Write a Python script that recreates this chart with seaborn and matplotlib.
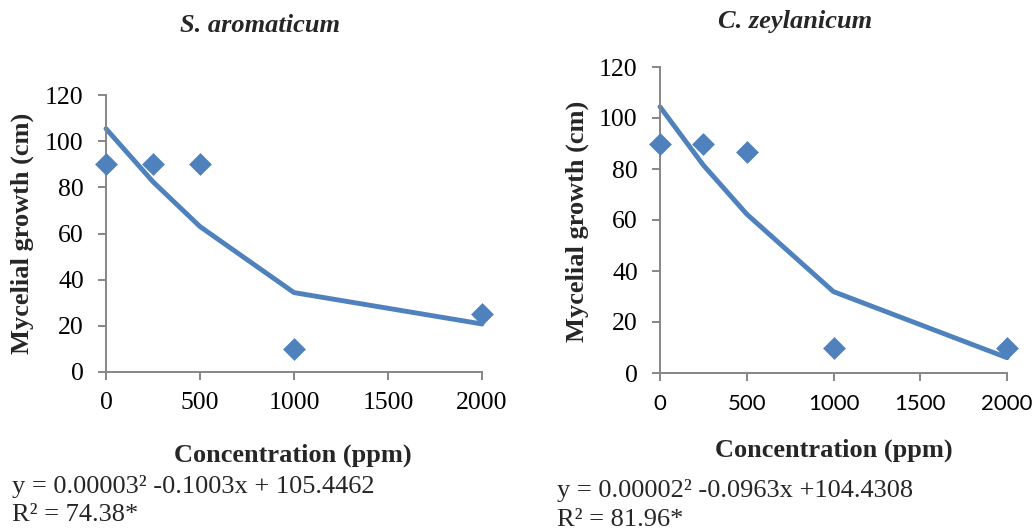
import matplotlib
matplotlib.use("Agg")
import matplotlib.pyplot as plt
import seaborn as sns
import pandas as pd

sns.set_theme(style="white")
plt.rcParams['font.family'] = ['Liberation Serif', 'DejaVu Serif']

# Data
conc = [0, 250, 500, 1000, 2000]
s_arom_obs = [90, 90, 90, 10, 25]
s_arom_fit = [105.4, 82.4, 63.0, 34.4, 20.8]
c_zeyl_obs = [90, 90, 86.5, 10, 10]
c_zeyl_fit = [104.4, 81.5, 62.3, 31.9, 6.0]
titles = ["S. aromaticum", "C. zeylanicum"]
eq_line1 = ["y = 0.00003\u00b2 -0.1003x + 105.4462",
            "y = 0.00002\u00b2 -0.0963x +104.4308"]
eq_line2 = ["R\u00b2 = 74.38*", "R\u00b2 = 81.96*"]
xticks = [0, 500, 1000, 1500, 2000]
yticks = [0, 20, 40, 60, 80, 100, 120]

blue = "#4F81BD"
spine_col = "#868686"

W, H = 1035, 531
fig = plt.figure(figsize=(W / 100, H / 100), dpi=100)

def px_axes(x0, y0, x1, y1):
    return fig.add_axes([x0 / W, 1 - y1 / H, (x1 - x0) / W, (y1 - y0) / H])

def fx(x):
    return x / W

def fy(y):
    return 1 - y / H

ax1 = px_axes(106, 95, 482, 372)
ax2 = px_axes(660, 67, 1007, 373)

panels = [
    (ax1, s_arom_obs, s_arom_fit),
    (ax2, c_zeyl_obs, c_zeyl_fit),
]

for i, (ax, obs, fit) in enumerate(panels):
    df = pd.DataFrame({"conc": conc, "obs": obs, "fit": fit})
    sns.lineplot(data=df, x="conc", y="fit", ax=ax, color=blue, linewidth=3.5,
                 clip_on=False, zorder=2)
    sns.scatterplot(data=df, x="conc", y="obs", ax=ax, marker="D", s=135,
                    color=blue, edgecolor=blue, linewidth=0, clip_on=False, zorder=3)
    ax.set_xlim(0, 2000)
    ax.set_ylim(0, 120)
    ax.set_xticks(xticks)
    ax.set_yticks(yticks)
    ax.set_xlabel("")
    ax.set_ylabel("")
    for s in ["top", "right"]:
        ax.spines[s].set_visible(False)
    for s in ["left", "bottom"]:
        ax.spines[s].set_color(spine_col)
        ax.spines[s].set_linewidth(1.4)
    ax.tick_params(axis="both", which="major", direction="out", length=5.5,
                   width=1.4, color=spine_col, labelsize=18.5, labelcolor="black",
                   left=True, bottom=True)
    ax.tick_params(axis="y", pad=10.5)
    ax.tick_params(axis="x", pad=9)
    ax.set_facecolor("none")
    ax.grid(False)

# Right panel x tick labels in a sans font (as in the reference)
for lab in ax2.get_xticklabels():
    lab.set_family(["Lato", "DejaVu Sans"])
    lab.set_fontsize(16)
ax2.tick_params(axis="x", pad=9.5)

# Titles
fig.text(fx(260), fy(32), titles[0], ha="center", va="baseline",
         fontsize=19, fontweight="bold", fontstyle="italic")
fig.text(fx(795), fy(28), titles[1], ha="center", va="baseline",
         fontsize=19, fontweight="bold", fontstyle="italic")

# Y labels
fig.text(fx(22), fy(233), "Mycelial growth (cm)", rotation=90, ha="center",
         va="center", fontsize=19, fontweight="bold")
fig.text(fx(577), fy(221), "Mycelial growth (cm)", rotation=90, ha="center",
         va="center", fontsize=19, fontweight="bold")

# X labels
fig.text(fx(293), fy(462), "Concentration (ppm)", ha="center", va="baseline",
         fontsize=19, fontweight="bold")
fig.text(fx(834), fy(457), "Concentration (ppm)", ha="center", va="baseline",
         fontsize=19, fontweight="bold")

# Equations
fig.text(fx(12), fy(493), eq_line1[0], ha="left", va="baseline", fontsize=19)
fig.text(fx(12), fy(521), eq_line2[0], ha="left", va="baseline", fontsize=19)
fig.text(fx(557), fy(497), eq_line1[1], ha="left", va="baseline", fontsize=19)
fig.text(fx(557), fy(526), eq_line2[1], ha="left", va="baseline", fontsize=19)

fig.savefig("out.png", dpi=100, facecolor="white")
